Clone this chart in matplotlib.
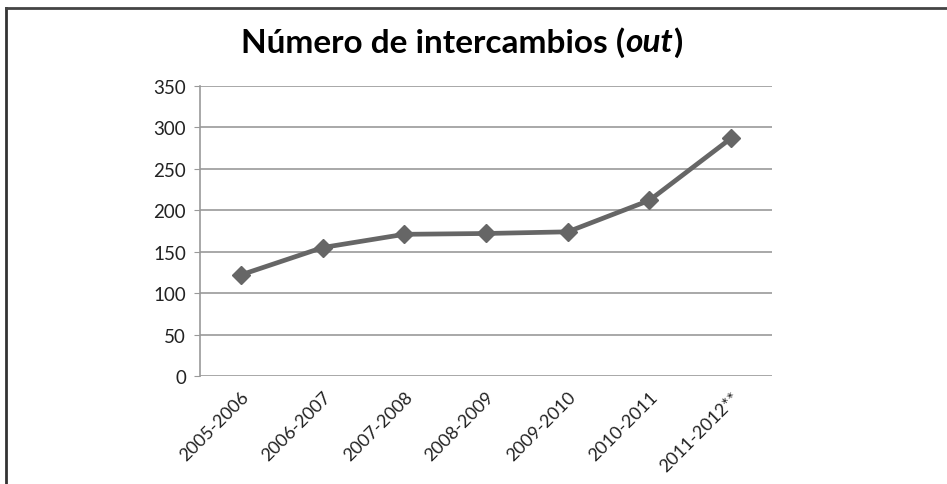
import matplotlib.pyplot as plt
from matplotlib.lines import Line2D

plt.rcParams['font.family'] = ['Lato', 'DejaVu Sans']

# datos
temporadas = ['2005-2006', '2006-2007', '2007-2008', '2008-2009',
              '2009-2010', '2010-2011', '2011-2012**']
intercambios = [122, 155, 171, 172, 174, 212, 287]

fig = plt.figure(figsize=(9.47, 4.85), dpi=100)
ax = fig.add_axes([200/947, 1-377/485, 572/947, 290/485])

x = range(len(temporadas))
ax.plot(x, intercambios, color='#666666', linewidth=3.4, marker='D',
        markersize=9, markerfacecolor='#666666', markeredgecolor='#666666')

ax.set_xlim(-0.5, len(temporadas) - 0.5)
ax.set_ylim(0, 350)
ax.set_yticks(range(0, 351, 50))
ax.set_xticks(list(x))
ax.set_xticklabels(temporadas, rotation=45, ha='right', rotation_mode='anchor',
                   fontsize=13, color='#222222')
ax.tick_params(axis='y', labelsize=13.5, colors='#222222', length=4, color='#999999', pad=6)
ax.tick_params(axis='x', length=0, pad=9)
ax.grid(axis='y', color='#999999', linewidth=1.2)
ax.set_axisbelow(True)
for s in ['top', 'right', 'bottom']:
    ax.spines[s].set_visible(False)
ax.spines['left'].set_color('#999999')
ax.spines['left'].set_linewidth(1.2)

# titulo en tres partes (la palabra out va en cursiva)
partes = [('Número de intercambios (', 'normal'), ('out', 'italic'), (')', 'normal')]
textos = [fig.text(0, 1-43/485, t, fontsize=24, fontweight='bold', style=st,
                   ha='left', va='center') for t, st in partes]
fig.canvas.draw()
r = fig.canvas.get_renderer()
anchos = [t.get_window_extent(r).width for t in textos]
x0 = 462 - sum(anchos) / 2
for t, w in zip(textos, anchos):
    t.set_x(x0 / 947)
    x0 += w

# marco de la imagen
fig.add_artist(Line2D([6/947, 6/947], [0, 1-9/485], color='#333333', linewidth=2))
fig.add_artist(Line2D([6/947, 1], [1-9/485, 1-9/485], color='#444444', linewidth=2))

fig.savefig('out.png', dpi=100)
